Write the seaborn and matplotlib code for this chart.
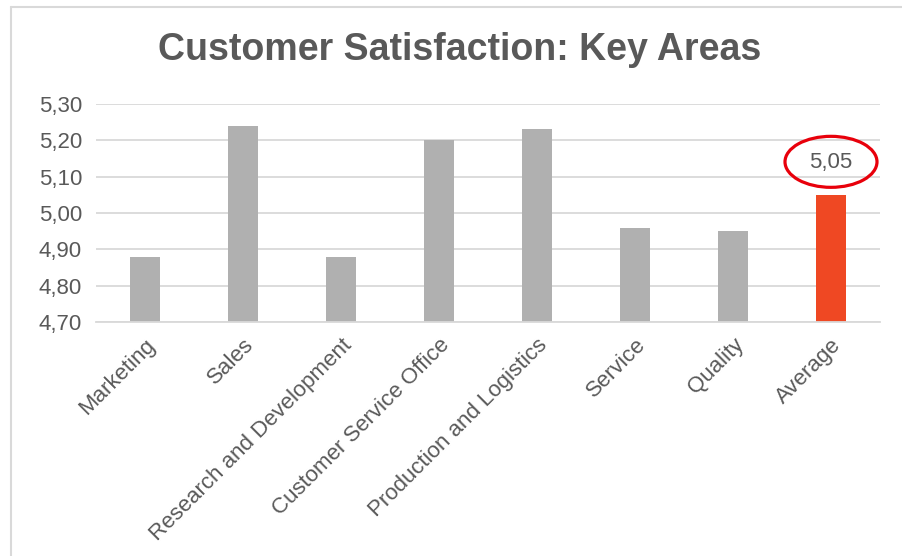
import matplotlib
matplotlib.use("Agg")
import matplotlib.pyplot as plt
import seaborn as sns
import pandas as pd
from matplotlib.patches import Ellipse
from matplotlib.lines import Line2D
from matplotlib.transforms import ScaledTranslation

categories = ["Marketing", "Sales", "Research and Development", "Customer Service Office",
              "Production and Logistics", "Service", "Quality", "Average"]
values = [4.88, 5.24, 4.88, 5.20, 5.23, 4.96, 4.95, 5.05]
highlight = [False, False, False, False, False, False, False, True]
yticks = [4.70, 4.80, 4.90, 5.00, 5.10, 5.20, 5.30]
ytick_labels = ["4,70", "4,80", "4,90", "5,00", "5,10", "5,20", "5,30"]
title = "Customer Satisfaction: Key Areas"
label_text = "5,05"

sns.set_theme(style="white")
plt.rcParams['font.family'] = ['Liberation Sans', 'DejaVu Sans']

TEXT = "#595959"
GRID = "#D9D9D9"
GRAY = "#B0B0B0"
RED = "#EF4823"

df = pd.DataFrame({"cat": categories, "val": values,
                   "kind": ["hi" if h else "lo" for h in highlight]})

fig = plt.figure(figsize=(9.02, 5.56), dpi=100)
ax = fig.add_axes([96 / 902, 1 - 322 / 556, (880 - 96) / 902, (322 - 104) / 556])

sns.barplot(data=df, x="cat", y="val", hue="kind", palette={"lo": GRAY, "hi": RED},
            dodge=False, width=0.316, legend=False, ax=ax, saturation=1, linewidth=0)

ax.set_ylim(4.70, 5.30)
ax.set_xlim(-0.5, len(categories) - 0.5)
ax.set_yticks(yticks)
ax.set_yticklabels(ytick_labels)
ax.set_xlabel("")
ax.set_ylabel("")
ax.set_axisbelow(True)
ax.yaxis.grid(True, color=GRID, linewidth=1.3)
for s in ["top", "right", "left"]:
    ax.spines[s].set_visible(False)
ax.spines["bottom"].set_color(GRID)
ax.spines["bottom"].set_linewidth(1.3)
ax.tick_params(axis="y", length=0, pad=10, labelsize=16, labelcolor=TEXT)
ax.tick_params(axis="x", length=0, pad=9, labelsize=16, labelcolor=TEXT)
ax.set_xticks(range(len(categories)))
ax.set_xticklabels(categories, rotation=45, ha="right", va="top", rotation_mode="anchor")

fig.text(460 / 902, 1 - 50 / 556, title, ha="center", va="center",
         fontsize=27, fontweight="bold", color=TEXT)

# data label for the highlighted bar, circled
idx = highlight.index(True)
ax.annotate(label_text, xy=(idx, values[idx]), xytext=(0, 23.5), textcoords="offset points",
            ha="center", va="center", fontsize=16, color=TEXT)
tr = fig.dpi_scale_trans + ScaledTranslation(idx, values[idx], ax.transData)
ell = Ellipse((0, 0.33), width=0.92, height=0.51, transform=tr, fill=False,
              edgecolor="#E8000B", linewidth=2.3, clip_on=False)
ax.add_artist(ell)

# chart border (top and left edges visible)
fig.add_artist(Line2D([11 / 902, 1.0], [1 - 7 / 556, 1 - 7 / 556], color=GRID,
                      linewidth=1.5, transform=fig.transFigure))
fig.add_artist(Line2D([11 / 902, 11 / 902], [0.0, 1 - 7 / 556], color=GRID,
                      linewidth=1.5, transform=fig.transFigure))

fig.savefig("out.png", dpi=100, facecolor="white")
